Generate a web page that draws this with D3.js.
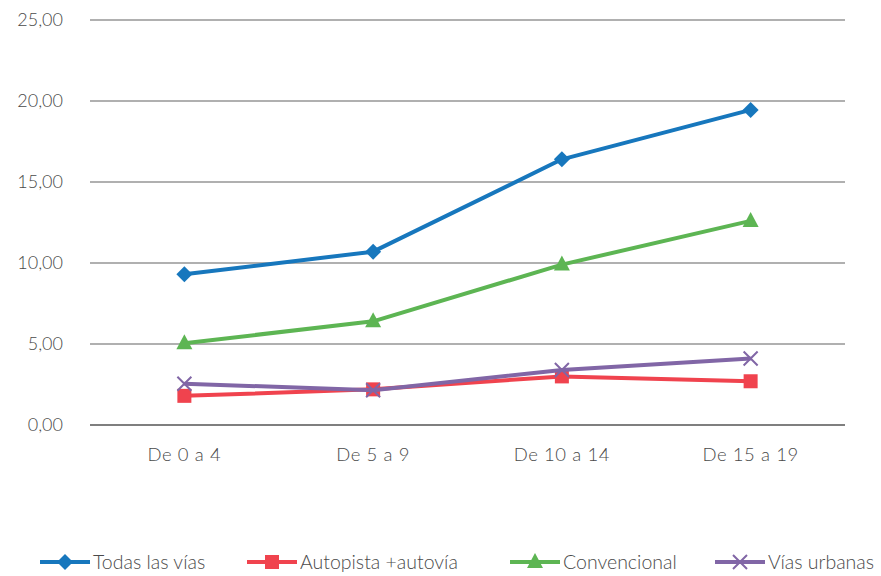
<!DOCTYPE html>
<html><head><meta charset="utf-8">
<script src="https://cdn.jsdelivr.net/npm/d3@7"></script>
<style>body{margin:0;background:#fff}svg{display:block}text{font-family:Lato,"Open Sans",sans-serif;font-weight:300;fill:#4a4a4a}</style>
</head><body><svg id="c" width="881" height="576"></svg>
<script>
const categories = ["De 0 a 4", "De 5 a 9", "De 10 a 14", "De 15 a 19"];
const seriesNames = ["Todas las vías", "Autopista +autovía", "Convencional", "Vías urbanas"];
const todas = [9.3, 10.7, 16.4, 19.45];
const autopista = [1.8, 2.2, 3.0, 2.7];
const convencional = [5.05, 6.4, 9.9, 12.6];
const urbanas = [2.55, 2.15, 3.4, 4.1];
const yTicks = [0, 5, 10, 15, 20, 25];
const colors = ["#1777bd", "#f0434e", "#5db553", "#8166a6"];
const markers = ["diamond", "square", "triangle", "cross"];

(function () {
const series = [todas, autopista, convencional, urbanas].map((v, i) => ({name: seriesNames[i], values: v, color: colors[i], marker: markers[i]}));

const svg = d3.select("#c");
const mLeft = 90, mRight = 845, mTop = 20, mBottom = 425;
const x = d3.scaleBand().domain(categories).range([mLeft, mRight]);
const y = d3.scaleLinear().domain([0, 25]).range([mBottom, mTop]);
const fmt = d => d3.format(".2f")(d).replace(".", ",");

svg.append("g").selectAll("line").data(yTicks).join("line")
  .attr("x1", mLeft).attr("x2", mRight)
  .attr("y1", d => y(d)).attr("y2", d => y(d))
  .attr("stroke", d => d === 0 ? "#7f7f7f" : "#b0b0b0").attr("stroke-width", 2);

const yAxis = svg.append("g").attr("transform", `translate(${mLeft - 24},0)`)
  .call(d3.axisLeft(y).tickValues(yTicks).tickFormat(fmt).tickSize(0));
yAxis.select(".domain").remove();
yAxis.selectAll("text").style("font-size", "18px").attr("fill", "#4a4a4a").attr("font-family", "Lato").attr("font-weight", 300);

const xAxis = svg.append("g").attr("transform", `translate(0,${mBottom + 20})`)
  .call(d3.axisBottom(x).tickSize(0));
xAxis.select(".domain").remove();
xAxis.selectAll("text").style("font-size", "18.5px").style("letter-spacing", "0.6px").attr("fill", "#4a4a4a").attr("font-family", "Lato").attr("font-weight", 300);

const cx = c => x(c) + x.bandwidth() / 2;

function drawMarker(g, type, color, px, py) {
  if (type === "diamond") {
    g.append("path").attr("d", `M${px},${py-8}L${px+8},${py}L${px},${py+8}L${px-8},${py}Z`).attr("fill", color);
  } else if (type === "square") {
    g.append("rect").attr("x", px - 7).attr("y", py - 7).attr("width", 14).attr("height", 14).attr("fill", color);
  } else if (type === "triangle") {
    g.append("path").attr("d", `M${px},${py-9}L${px+8},${py+6}L${px-8},${py+6}Z`).attr("fill", color);
  } else {
    g.append("path").attr("d", `M${px-7},${py-7}L${px+7},${py+7}M${px-7},${py+7}L${px+7},${py-7}`).attr("stroke", color).attr("stroke-width", 2);
  }
}

const line = d3.line().x((d, i) => cx(categories[i])).y(d => y(d));
series.forEach(s => {
  const g = svg.append("g");
  g.append("path").attr("d", line(s.values)).attr("fill", "none").attr("stroke", s.color).attr("stroke-width", 4).attr("stroke-linejoin", "round");
  s.values.forEach((v, i) => drawMarker(g, s.marker, s.color, cx(categories[i]), y(v)));
});

const legendX = [40, 247, 510, 715];
const ly = 562;
series.forEach((s, i) => {
  const g = svg.append("g");
  const x0 = legendX[i];
  g.append("line").attr("x1", x0).attr("x2", x0 + 50).attr("y1", ly).attr("y2", ly).attr("stroke", s.color).attr("stroke-width", 4);
  drawMarker(g, s.marker, s.color, x0 + 25, ly);
  g.append("text").attr("x", x0 + 53).attr("y", ly).attr("dy", "0.35em").style("font-size", "19.5px").text(s.name);
});
})();
</script></body></html>
